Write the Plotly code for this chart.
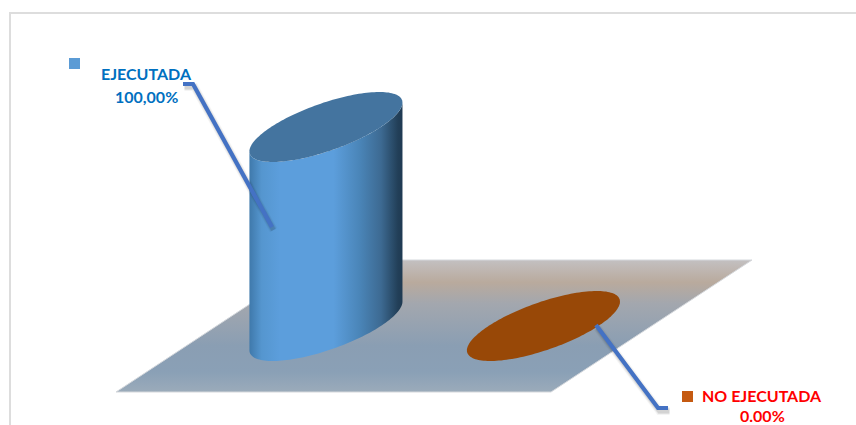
import numpy as np
import plotly.graph_objects as go

# Datos
categorias = ["EJECUTADA", "NO EJECUTADA"]
valores = [100, 0]
etiquetas = ["100,00%", "0.00%"]
color_texto = ["#0070c0", "#ff0000"]
color_leyenda = ["#5b9bd5", "#c55a11"]
color_tapa = ["#44749f", "#984807"]
gradiente_cuerpo = [
    [[0, "#3f79ab"], [0.08, "#5596cf"], [0.2, "#5c9edc"], [0.55, "#5c9edc"], [0.72, "#4a85b8"],
     [0.86, "#3d6a92"], [0.97, "#223f58"], [1, "#1f3a52"]],
    [[0, "#984807"], [1, "#984807"]],
]
# El eje y esta invertido, asi que el gradiente va de abajo hacia arriba
gradiente_piso = [[0, "#9babba"], [0.15, "#8aa0b6"], [0.35, "#8a9eb3"], [0.67, "#a3a7ae"], [0.83, "#b9aa9d"],
                  [1, "#c3c0c1"]]

# Proyeccion oblicua del piso, en pixeles de la figura
piso_x, piso_y = 116, 392
piso_ancho, piso_fondo = 435, (201, -132)
px_por_valor = 1.99
radio_x, radio_fondo = 54.9, (53.3, -35)


def proyecta(u, v, valor=0):
    # u y v van de 0 a 1 sobre el piso
    return (piso_x + u * piso_ancho + v * piso_fondo[0],
            piso_y + v * piso_fondo[1] - valor * px_por_valor)


def elipse(cx, cy, t):
    return (cx + radio_x * np.cos(t) + radio_fondo[0] * np.sin(t),
            cy + radio_fondo[1] * np.sin(t))


def linea_con_sombra(fig, xs, ys):
    xs, ys = np.array(xs), np.array(ys)
    for ancho, op in [(8, 0.04), (6, 0.06), (4.5, 0.07)]:
        fig.add_trace(go.Scatter(x=xs + 1.5, y=ys + 3, mode="lines", opacity=op,
                                 line=dict(color="#000000", width=ancho)))
    fig.add_trace(go.Scatter(x=xs, y=ys, mode="lines", line=dict(color="#4472c4", width=4.2)))


fig = go.Figure()

# Piso
esquinas = [proyecta(0, 0), proyecta(1, 0), proyecta(1, 1), proyecta(0, 1), proyecta(0, 0)]
fig.add_trace(go.Scatter(x=[p[0] for p in esquinas], y=[p[1] for p in esquinas], mode="lines",
                         line=dict(color="#d5d8dc", width=1), fill="toself",
                         fillgradient=dict(type="vertical", colorscale=gradiente_piso)))

# Cilindros
t0 = np.arctan2(radio_fondo[0], radio_x)
for i, valor in enumerate(valores):
    cx, cy = proyecta(0.25 + 0.5 * i, 0.5)
    cx += 0.7
    tapa_y = cy - valor * px_por_valor
    t_frente = np.linspace(t0 - np.pi, t0, 80)
    bx, by = elipse(cx, cy, t_frente)
    ax, ay = elipse(cx, tapa_y, t_frente[::-1])
    fig.add_trace(go.Scatter(x=np.r_[bx, ax], y=np.r_[by, ay], mode="none", fill="toself",
                             fillgradient=dict(type="horizontal", colorscale=gradiente_cuerpo[i])))
    tx, ty = elipse(cx, tapa_y, np.linspace(0, 2 * np.pi, 160))
    fig.add_trace(go.Scatter(x=tx, y=ty, mode="none", fill="toself", fillcolor=color_tapa[i]))

# Lineas guia
linea_con_sombra(fig, [183, 193, 272], [84, 84, 227])
linea_con_sombra(fig, [596, 658, 668], [325, 408, 408])

# Cuadritos de leyenda
fig.add_trace(go.Scatter(x=[74.5, 687.5], y=[63.5, 396.5], mode="markers",
                         marker=dict(symbol="square", size=11, color=color_leyenda, line_width=0)))

# Textos
pos_texto = [(146, 73.5, 96.5), (762, 395, 415)]
for i, (x, y1, y2) in enumerate(pos_texto):
    for texto, y in [(categorias[i], y1), (etiquetas[i], y2)]:
        fig.add_annotation(x=x, y=y, text="<b>" + texto + "</b>", showarrow=False,
                           font=dict(family="Lato", size=16, color=color_texto[i]))

# Marco
fig.add_shape(type="rect", x0=10, y0=13, x1=900, y1=500, line=dict(color="#dddddd", width=2))

fig.update_layout(
    width=856, height=425, showlegend=False,
    margin=dict(l=0, r=0, t=0, b=0),
    paper_bgcolor="white", plot_bgcolor="white",
    xaxis=dict(range=[0, 856], visible=False),
    yaxis=dict(range=[425, 0], visible=False),
)

fig.write_html("out.html", config=dict(displayModeBar=False),
               post_script="document.body.style.margin='0';document.body.style.overflow='hidden';")
